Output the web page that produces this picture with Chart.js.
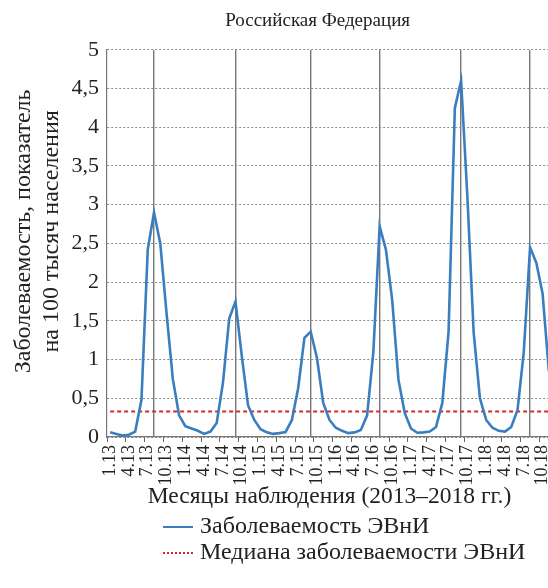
<html>
<head>
<meta charset="utf-8">
<title>ЭВнИ, Российская Федерация</title>
<script src="https://cdn.jsdelivr.net/npm/chart.js@4.4.1/dist/chart.umd.min.js"></script>
<style>
  body { margin: 0; background: #fff; }
  #wrap { position: relative; width: 548px; height: 588px; overflow: hidden; }
  #legend { position: absolute; left: 163px; top: 512px; font: 24px "Liberation Serif", serif; color: #222; }
  #legend .row { height: 26px; line-height: 26px; white-space: nowrap; }
  #legend .sw { display: inline-block; width: 30px; vertical-align: middle; margin-right: 7px; }
</style>
</head>
<body>
<div id="wrap">
  <!-- a little wider than the window: the plot runs off the right edge as in the original -->
  <canvas id="myChart" width="552" height="588"></canvas>
  <div id="legend"></div>
</div>
<script>
// month labels 1.13 ... 12.18
var years = [13, 14, 15, 16, 17, 18];
var months = [];
years.forEach(function (y) {
    for (var m = 1; m <= 12; m++) months.push(m + '.' + y);
});
var lastMonth = '11.18';

// incidence per 100 000, Jan 2013 - Nov 2018
var incidence = [
    0.06, 0.04, 0.02, 0.03, 0.07, 0.48, 2.42, 2.9, 2.5, 1.6, 0.75, 0.28,
    0.14, 0.11, 0.08, 0.04, 0.07, 0.18, 0.7, 1.53, 1.75, 1.05, 0.41, 0.22,
    0.1, 0.06, 0.04, 0.05, 0.065, 0.22, 0.63, 1.28, 1.36, 1.02, 0.44, 0.22,
    0.12, 0.08, 0.05, 0.06, 0.09, 0.28, 1.1, 2.72, 2.42, 1.77, 0.74, 0.31,
    0.11, 0.055, 0.06, 0.07, 0.13, 0.44, 1.36, 4.25, 4.6, 3.1, 1.35, 0.5,
    0.22, 0.12, 0.08, 0.07, 0.13, 0.35, 1.1, 2.45, 2.25, 1.85, 0.85
];
var median = 0.33;
var peakMonths = ['8.13', '9.14', '9.15', '8.16', '9.17', '8.18'];

var blue = '#3a7ebf';
var red = '#d42a2a';
var serif = '"Liberation Serif", "DejaVu Serif", serif';

var ctx = document.getElementById('myChart').getContext('2d');
var chart = new Chart(ctx, {
    type: 'line',
    data: {
        labels: months,
        datasets: [{
            label: 'Заболеваемость ЭВнИ',
            data: incidence,
            borderColor: blue,
            borderWidth: 2.6,
            pointRadius: 0,
            tension: 0
        }, {
            label: 'Медиана заболеваемости ЭВнИ',
            data: incidence.map(function () { return median; }),
            borderColor: red,
            borderWidth: 2,
            borderDash: [4, 3],
            pointRadius: 0
        }]
    },
    options: {
        responsive: false,
        animation: false,
        devicePixelRatio: 1,
        layout: { padding: { bottom: 77 } },
        plugins: {
            legend: { display: false },
            tooltip: { enabled: false },
            title: {
                display: true,
                // trailing spaces nudge the centred title a bit left, as in the original
                text: 'Российская Федерация     ',
                fullSize: false,
                color: '#222',
                font: { family: serif, size: 19, weight: 'normal' },
                padding: { top: 10, bottom: 17 }
            }
        },
        scales: {
            x: {
                type: 'category',
                max: lastMonth,
                offset: true,
                grid: {
                    offset: true,
                    drawOnChartArea: false,
                    tickLength: 5,
                    tickColor: function (c) { return c.index % 3 === 0 ? '#666' : 'rgba(0,0,0,0)'; }
                },
                border: { color: '#777', width: 1.2 },
                ticks: {
                    autoSkip: false,
                    minRotation: 90,
                    maxRotation: 90,
                    padding: 3,
                    color: '#222',
                    font: { family: serif, size: 18 },
                    callback: function (v, i) { return i % 3 === 0 ? this.getLabelForValue(v) : ''; }
                },
                title: {
                    display: true,
                    text: 'Месяцы наблюдения (2013–2018 гг.)',
                    color: '#222',
                    font: { family: serif, size: 23.5 },
                    padding: { top: 2, bottom: 0 }
                },
                afterFit: function (s) { s.height = 74; s.paddingRight = 0; s.paddingLeft = 0; }
            },
            // vertical lines through the seasonal peaks
            peaks: {
                type: 'category',
                labels: months,
                max: lastMonth,
                offset: true,
                position: 'top',
                grid: {
                    offset: false,
                    drawTicks: false,
                    lineWidth: 1.4,
                    color: function (c) { return peakMonths.indexOf(months[c.index]) >= 0 ? '#777' : 'rgba(0,0,0,0)'; }
                },
                border: { display: false },
                ticks: { display: false, autoSkip: false }
            },
            y: {
                min: 0,
                max: 5,
                ticks: {
                    stepSize: 0.5,
                    padding: 8,
                    color: '#222',
                    font: { family: serif, size: 22 },
                    callback: function (v) { return String(v).replace('.', ','); }
                },
                grid: { color: '#8a8a8a', lineWidth: 1, drawTicks: false },
                border: { color: '#777', width: 1.2, dash: [2, 2] },
                title: {
                    display: true,
                    // leading spaces lift the rotated lines slightly, as in the original
                    text: ['    Заболеваемость, показатель', '    на 100 тысяч населения'],
                    color: '#222',
                    font: { family: serif, size: 24, lineHeight: 1.15 },
                    padding: { top: 10, bottom: 4 }
                },
                afterFit: function (s) { s.width = 107; }
            }
        }
    }
});

// legend rows built from the datasets
var legend = document.getElementById('legend');
chart.data.datasets.forEach(function (ds) {
    var row = document.createElement('div');
    row.className = 'row';
    var sw = document.createElement('span');
    sw.className = 'sw';
    sw.style.borderTop = (ds.borderDash ? '2px dotted ' : '2.6px solid ') + ds.borderColor;
    row.appendChild(sw);
    row.appendChild(document.createTextNode(ds.label));
    legend.appendChild(row);
});
</script>
</body>
</html>
